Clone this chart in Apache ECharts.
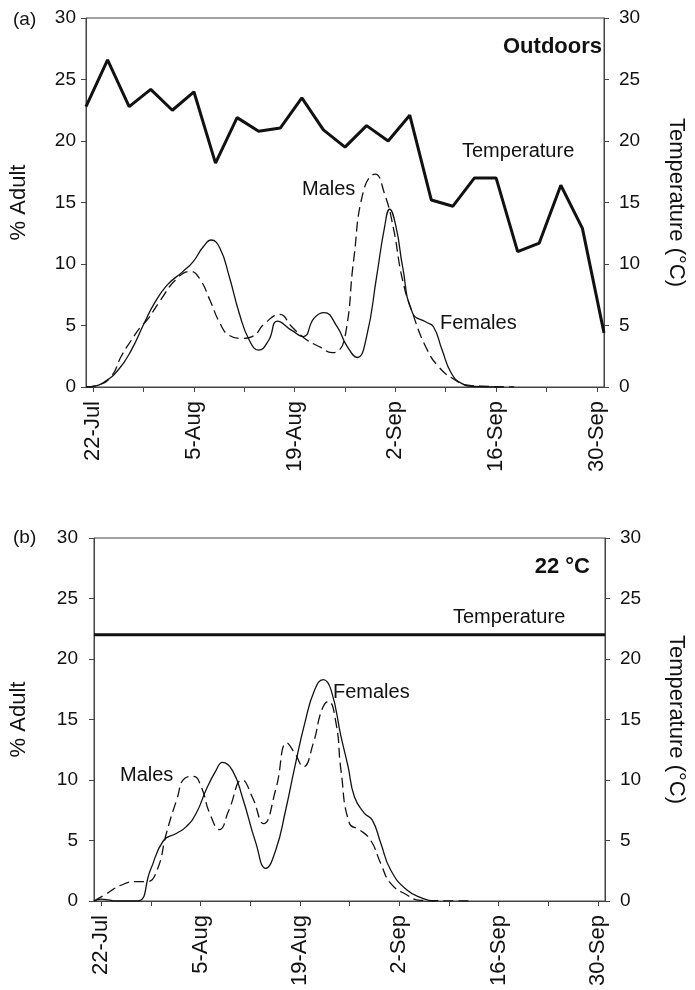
<!DOCTYPE html>
<html>
<head>
<meta charset="utf-8">
<script src="https://cdn.jsdelivr.net/npm/echarts@6/dist/echarts.min.js"></script>
<style>
html,body{margin:0;padding:0;background:#fff;}
#chart{width:695px;height:990px;}
</style>
</head>
<body>
<div id="chart"></div>
<script>
// Days counted from 22-Jul (day 0)
const tickLabels = ['22-Jul','5-Aug','19-Aug','2-Sep','16-Sep','30-Sep'];
const labelDays = [0,14,28,42,56,70];
const tickDays = [0,7,14,21,28,35,42,49,56,63,70];

// Panel (a) Outdoors
const tempDaysA = [-1,2,5,8,11,14,17,20,23,26,29,32,35,38,41,44,47,50,53,56,59,62,65,68,71];
const tempValsA = [22.8,26.6,22.8,24.2,22.5,24.0,18.2,21.9,20.8,21.05,23.5,20.9,19.5,21.25,20.0,22.1,15.2,14.7,17.0,17.0,11.0,11.7,16.4,12.9,4.4];

const femDaysA = [-1,0,1.6,3.5,5.3,7.1,8.5,10.3,12.5,13.9,15.3,16.4,17.6,18.9,20.3,21.7,23,24.4,25.6,27.6,29.2,30.7,32.1,33.9,35.3,36.7,38,39.4,40.5,41.2,42.1,43,44.4,46.2,47.3,48.5,49.8,51.2,53,57];
const femValsA = [0,0.05,0.43,1.4,3.0,5.2,6.8,8.3,9.4,10.2,11.4,11.95,11.3,9.0,6.0,3.8,3.0,3.8,5.35,4.6,4.1,5.6,6.05,4.9,3.3,2.4,4.1,9.0,13.0,14.45,13.0,9.8,6.0,5.3,4.9,3.0,1.1,0.3,0.05,0];

const maleDaysA = [-1,0.7,2.5,3.9,5.3,6.6,7.5,9.4,11.6,13.5,14.8,16.2,17.6,18.9,20.7,22.1,23.9,25.9,27.6,29.4,31.7,33.2,34,35.1,36.2,37.6,39.2,40.5,41.7,43,44.4,46.2,48,50.3,52.1,55,58.5];
const maleValsA = [0,0.15,0.85,2.5,3.8,4.9,5.45,7.1,8.8,9.4,8.8,7.1,5.2,4.2,3.95,4.1,5.2,5.9,4.9,3.95,3.2,2.8,2.9,4.4,10.3,16.0,17.3,15.7,13.0,8.7,6.0,3.3,1.65,0.57,0.15,0.05,0];

// Panel (b) 22 °C
const tempDaysB = [-1,71];
const tempValsB = [22,22];

const femDaysB = [-1,0,1,2,5.1,6.95,8.8,10.65,12,13.4,14.8,16.2,17.1,18.5,19.9,21.8,23.2,24.6,26,27.3,28.7,30.1,31.3,32.4,33.8,34.8,35.7,37.1,38.2,39.4,40.8,43.1,45.4,47];
const femValsB = [0,0.15,0.1,0,0,2.56,5.0,5.6,6.15,7.25,9.2,10.8,11.45,10.8,8.6,4.8,2.7,4.2,7.5,11.1,14.7,17.45,18.3,17.45,13.6,11.1,8.6,7.25,6.7,4.8,2.56,0.9,0.2,0];

const maleDaysB = [-1,0.5,2.8,5.1,6.5,7.9,9.2,10.65,11.8,13,14.1,15.3,16.7,18,19.9,21.3,22.9,24.6,26.2,27.3,28.5,29.9,31.1,32,33.1,33.8,35,36.4,38,39.4,40.8,43.1,45,52];
const maleValsB = [0,0.5,1.3,1.6,1.6,2.56,5.6,8.35,10.15,10.3,9.45,7.25,5.9,7.5,10.0,8.6,6.4,9.2,13.05,12.2,11.1,13.05,15.8,16.5,14.7,10.8,6.4,5.9,5.0,3.1,1.46,0.5,0.05,0];

function zip(a,b){return a.map((d,i)=>[d,b[i]]);}

const FONT = '"Liberation Sans", Arial, sans-serif';
const AX = '#444';

function xAxis(gi){
  return {
    type:'value', gridIndex:gi, min:-1, max:71,
    axisLine:{show:true,onZero:false,lineStyle:{color:AX,width:1}},
    splitLine:{show:false},
    axisTick:{show:true,length:5,customValues:tickDays,lineStyle:{color:AX}},
    axisLabel:{show:true,customValues:labelDays,rotate:90,margin:14,
      fontFamily:FONT,fontSize:22,color:'#111',
      formatter:function(v){const i=labelDays.indexOf(Math.round(v));return i>=0?tickLabels[i]:'';}}
  };
}
function yAxis(gi,pos,lm,gap){
  const right = pos==='right';
  return {
    type:'value', gridIndex:gi, position:pos, min:0, max:30, interval:5,
    name: right ? 'Temperature (°C)' : '% Adult',
    nameLocation:'middle', nameGap:gap, nameRotate: right ? -90 : 90,
    nameTextStyle:{fontFamily:FONT,fontSize:22,color:'#111'},
    axisLine:{show:true,onZero:false,lineStyle:{color:AX,width:1}},
    axisTick:{show:true,length:5,lineStyle:{color:AX}},
    splitLine:{show:false},
    axisLabel:{margin:lm,fontFamily:FONT,fontSize:19,color:'#111'}
  };
}
function thin(name,data,xi,dashed){
  return {type:'line',name:name,xAxisIndex:xi,yAxisIndex:xi*2,data:data,
    smooth:0.5,symbol:'none',silent:true,
    lineStyle:{color:'#111',width:1.3,type:dashed?[10,5]:'solid'}};
}
function txt(x,y,s,opt){
  return {type:'text',x:x,y:y,silent:true,style:Object.assign({text:s,fontFamily:FONT,fontSize:20,fill:'#111',textVerticalAlign:'middle',textAlign:'left'},opt||{})};
}

const chart = echarts.init(document.getElementById('chart'),null,{renderer:'canvas'});
chart.setOption({
  animation:false,
  backgroundColor:'#fff',
  grid:[
    {left:81,right:86,top:18,height:369,show:true,borderColor:AX,borderWidth:1,backgroundColor:'transparent'},
    {left:89,right:87,top:538,height:363,show:true,borderColor:AX,borderWidth:1,backgroundColor:'transparent'}
  ],
  xAxis:[xAxis(0),xAxis(1)],
  yAxis:[yAxis(0,'left',10,56),yAxis(0,'right',15,61),yAxis(1,'left',16,64),yAxis(1,'right',15,60)],
  series:[
    {type:'line',name:'Temperature',xAxisIndex:0,yAxisIndex:1,data:zip(tempDaysA,tempValsA),symbol:'none',silent:true,lineStyle:{color:'#111',width:3}},
    thin('Females',zip(femDaysA,femValsA),0,false),
    thin('Males',zip(maleDaysA,maleValsA),0,true),
    {type:'line',name:'Temperature',xAxisIndex:1,yAxisIndex:3,data:zip(tempDaysB,tempValsB),symbol:'none',silent:true,lineStyle:{color:'#111',width:3}},
    thin('Females',zip(femDaysB,femValsB),1,false),
    thin('Males',zip(maleDaysB,maleValsB),1,true)
  ],
  graphic:[
    txt(13,20,'(a)',{fontSize:19}),
    txt(13,538,'(b)',{fontSize:19}),
    txt(602,47,'Outdoors',{fontSize:22,fontWeight:'bold',textAlign:'right'}),
    txt(462,151,'Temperature'),
    txt(302,189,'Males'),
    txt(440,323,'Females'),
    txt(590,567,'22 °C',{fontSize:22,fontWeight:'bold',textAlign:'right'}),
    txt(453,617,'Temperature'),
    txt(120,775,'Males'),
    txt(333,692,'Females')
  ]
});
</script>
</body>
</html>
